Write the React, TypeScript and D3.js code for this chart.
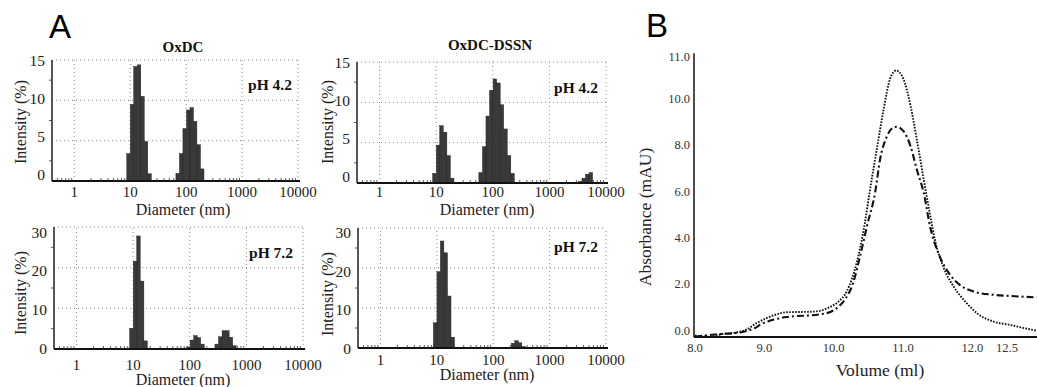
import React from 'react';
import * as d3 from 'd3';

// ---------- DATA ----------
// Panel A: DLS size distributions (bin diameter in nm, intensity %)
const BIN_LOG_WIDTH = 0.0628;

const oxdcPh42Diameter = [9.31, 10.8, 12.4, 14.4, 16.6, 19.2, 22.2, 70.6, 81.5, 94.2, 109, 126, 145, 168, 194];
const oxdcPh42Intensity = [3.4, 9.5, 14.2, 14.4, 10.5, 4.9, 0.9, 0.95, 3.4, 6.5, 8.8, 9.1, 7.4, 4.5, 1.5];

const dssnPh42Diameter = [9.31, 10.8, 12.4, 14.4, 16.6, 19.2, 61.1, 70.6, 81.5, 94.2, 109, 126, 145, 168, 194, 224, 3500, 4040, 4670, 5400];
const dssnPh42Intensity = [1.2, 4.7, 7.1, 6.3, 3.4, 0.6, 1.3, 4.5, 8.3, 11.5, 12.9, 12.4, 9.7, 6.7, 3.4, 1.2, 0.2, 0.6, 1.1, 1.3];

const oxdcPh72Diameter = [9.31, 10.8, 12.4, 14.4, 16.6, 94.2, 109, 126, 145, 168, 299, 346, 400, 462, 534, 617];
const oxdcPh72Intensity = [5.1, 21.6, 27.8, 16.7, 2.0, 0.5, 2.2, 3.3, 2.8, 1.2, 1.2, 3.0, 4.5, 4.5, 2.9, 0.8];

const dssnPh72Diameter = [9.31, 10.8, 12.4, 14.4, 16.6, 19.2, 194, 224, 259, 299, 346];
const dssnPh72Intensity = [6.3, 19.1, 26.75, 23.8, 13.0, 2.7, 0.2, 1.2, 1.8, 1.3, 0.4];

const diameterTicks = [1, 10, 100, 1000, 10000];
const diameterTickLabels = ['1', '10', '100', '1000', '10000'];
const intensityTicksPh42 = [0, 5, 10, 15];
const intensityTicksPh72 = [0, 10, 20, 30];

// Panel B: SEC chromatograms
const volumeTicks = [8, 9, 10, 11, 12, 12.5];
const volumeTickLabels = ['8.0', '9.0', '10.0', '11.0', '12.0', '12.5'];
const absorbanceTickAt = [0, 2, 4, 6, 8, 10, 11.8];
const absorbanceTickLabels = ['0.0', '2.0', '4.0', '6.0', '8.0', '10.0', '11.0'];

const dottedVolume = [8.0, 8.2, 8.4, 8.6, 8.75, 8.89, 9.03, 9.18, 9.32, 9.5, 9.66, 9.8, 9.95, 10.05, 10.19, 10.33, 10.45, 10.52, 10.62, 10.72, 10.81, 10.86, 10.9, 10.95, 11.01, 11.11, 11.2, 11.3, 11.4, 11.46, 11.58, 11.73, 11.92, 12.07, 12.31, 12.55, 12.75, 12.93];
const dottedAbsorbance = [-0.22, -0.27, -0.15, -0.08, 0.05, 0.32, 0.53, 0.7, 0.79, 0.8, 0.81, 0.85, 1.02, 1.2, 1.7, 2.9, 4.64, 6.0, 7.8, 9.54, 10.84, 11.15, 11.23, 11.15, 10.84, 9.69, 8.24, 6.5, 4.85, 3.92, 2.76, 1.9, 1.18, 0.74, 0.38, 0.24, 0.1, -0.01];

const dashDotVolume = [8.0, 8.2, 8.37, 8.55, 8.7, 8.89, 8.94, 9.06, 9.18, 9.32, 9.45, 9.66, 9.8, 9.95, 10.06, 10.14, 10.28, 10.38, 10.48, 10.6, 10.67, 10.77, 10.85, 10.91, 11.01, 11.11, 11.2, 11.3, 11.39, 11.53, 11.68, 11.82, 12.02, 12.31, 12.55, 12.93];
const dashDotAbsorbance = [-0.27, -0.2, -0.15, -0.12, -0.05, 0.15, 0.25, 0.4, 0.5, 0.58, 0.62, 0.65, 0.7, 0.8, 1.0, 1.25, 2.05, 3.2, 4.5, 6.0, 7.4, 8.4, 8.75, 8.8, 8.6, 7.95, 6.94, 5.93, 4.5, 3.2, 2.4, 1.97, 1.68, 1.54, 1.49, 1.43];

// ---------- STYLE ----------
const SERIF = '"Liberation Serif", "Times New Roman", serif';
const SANS = '"Liberation Sans", Arial, sans-serif';
const GRID = '#8a8a8a';

type PanelProps = {
  diam: number[];
  inten: number[];
  yMax: number;
  yTicks: number[];
  x0: number; x1: number; yTop: number; yZero: number;
  labelTop: number; labelZero: number;
  title?: string; titleX?: number; titleY?: number;
  ph: string; phX: number; phY: number;
  xLabelY: number; xTitleX: number; xTitleY: number;
  yLabelX: number; yLabelY: number;
};

function DlsPanel(p: PanelProps) {
  const x = d3.scaleLog().domain([0.4, 10000]).range([p.x0, p.x1]);
  const y = d3.scaleLinear().domain([0, p.yMax]).range([p.yZero, p.yTop]);
  const yLab = d3.scaleLinear().domain([0, p.yMax]).range([p.labelZero, p.labelTop]);
  const half = Math.pow(10, BIN_LOG_WIDTH / 2);
  const minor: number[] = [];
  [0.5, 0.6, 0.7, 0.8, 0.9].forEach(v => minor.push(v));
  [1, 10, 100, 1000].forEach(dec => { for (let m = 2; m <= 9; m++) minor.push(dec * m); });
  const yStep = p.yTicks[1] - p.yTicks[0];
  const yMinor = p.yTicks.slice(0, -1).map(v => v + yStep / 2);
  return (
    <g>
      {/* grid */}
      {diameterTicks.map(t => (
        <line key={'gv' + t} x1={x(t)} x2={x(t)} y1={p.yZero} y2={p.yTop} stroke={GRID} strokeWidth={1} strokeDasharray="1,3" />
      ))}
      {p.yTicks.filter(t => t > 0).map(t => (
        <line key={'gh' + t} x1={p.x0} x2={p.x1} y1={y(t)} y2={y(t)} stroke={GRID} strokeWidth={1} strokeDasharray="1,3" />
      ))}
      {/* bars */}
      {p.diam.map((d, i) => (
        <rect key={'b' + i} x={x(d / half)} width={x(d * half) - x(d / half)} y={y(p.inten[i])} height={y(0) - y(p.inten[i])}
          fill="#393939" stroke="#1e1e1e" strokeWidth={0.4} />
      ))}
      {/* axes */}
      <line x1={p.x0} x2={p.x0} y1={p.yZero} y2={p.yTop} stroke="#111" strokeWidth={1.4} />
      <line x1={p.x0} x2={p.x1 + 2} y1={p.yZero} y2={p.yZero} stroke="#111" strokeWidth={2} />
      {minor.map(t => (
        <line key={'mx' + t} x1={x(t)} x2={x(t)} y1={p.yZero} y2={p.yZero - 3} stroke="#333" strokeWidth={0.8} />
      ))}
      {yMinor.map(t => (
        <line key={'my' + t} x1={p.x0} x2={p.x0 - 3} y1={y(t)} y2={y(t)} stroke="#333" strokeWidth={0.8} />
      ))}
      {p.yTicks.map(t => (
        <text key={'yt' + t} x={p.x0 - 7} y={yLab(t) + 5} textAnchor="end" fontFamily={SERIF} fontSize={15.5} fill="#222">{t}</text>
      ))}
      {diameterTicks.map((t, i) => (
        <text key={'xt' + t} x={x(t)} y={p.xLabelY} textAnchor="middle" fontFamily={SERIF} fontSize={15} fill="#222">{diameterTickLabels[i]}</text>
      ))}
      <text x={p.xTitleX} y={p.xTitleY} textAnchor="middle" fontFamily={SERIF} fontSize={16} fill="#222">Diameter (nm)</text>
      <text transform={`translate(${p.yLabelX},${p.yLabelY}) rotate(-90)`} textAnchor="middle" dominantBaseline="central" fontFamily={SERIF} fontSize={16} fill="#222">Intensity (%)</text>
      <text x={p.phX} y={p.phY} textAnchor="end" fontFamily={SERIF} fontSize={15.5} fontWeight="bold" fill="#111">{p.ph}</text>
      {p.title && (
        <text x={p.titleX} y={p.titleY} textAnchor="middle" fontFamily={SERIF} fontSize={15} fontWeight="bold" fill="#111">{p.title}</text>
      )}
    </g>
  );
}

function SecPanel() {
  const x = d3.scaleLinear().domain([8, 12.5]).range([695, 1007]);
  const y = d3.scaleLinear().domain([0, 10]).range([330.5, 99]);
  const line = d3.line<number>().curve(d3.curveMonotoneX);
  const dotted = line(dottedVolume.map((v, i) => [x(v), y(dottedAbsorbance[i])]) as any);
  const dashDot = line(dashDotVolume.map((v, i) => [x(v), y(dashDotAbsorbance[i])]) as any);
  const axisX = x(8) - 1;
  const axisY = y(-0.28);
  return (
    <g>
      <line x1={axisX} x2={axisX} y1={y(11.98)} y2={axisY} stroke="#111" strokeWidth={1.5} />
      <line x1={axisX} x2={1037} y1={axisY} y2={axisY} stroke="#111" strokeWidth={2} />
      {absorbanceTickAt.map((t, i) => (
        <text key={'by' + i} x={axisX - 4} y={y(t) + 4} textAnchor="end" fontFamily={SERIF} fontSize={12.5} fill="#333">{absorbanceTickLabels[i]}</text>
      ))}
      {volumeTicks.map((t, i) => (
        <text key={'bx' + i} x={x(t)} y={axisY + 15} textAnchor="middle" fontFamily={SERIF} fontSize={12.5} fill="#333">{volumeTickLabels[i]}</text>
      ))}
      <path d={dotted as string} fill="none" stroke="#111" strokeWidth={1.9} strokeDasharray="1.6,1.4" />
      <path d={dashDot as string} fill="none" stroke="#111" strokeWidth={2.1} strokeDasharray="7,3,2,3" />
      <text x={880} y={376} textAnchor="middle" fontFamily={SERIF} fontSize={17.5} fill="#222">Volume (ml)</text>
      <text transform="translate(645,217) rotate(-90)" textAnchor="middle" dominantBaseline="central" fontFamily={SERIF} fontSize={17.5} fill="#222">Absorbance (mAU)</text>
    </g>
  );
}

export default function App() {
  return (
    <svg width={1037} height={387} viewBox="0 0 1037 387" style={{ position: 'absolute', left: 0, top: 0, background: '#fff' }}>
      <rect x={0} y={0} width={1037} height={387} fill="#fff" />
      <text x={49} y={38} fontFamily={SANS} fontSize={33} fill="#000">A</text>
      <text x={646} y={37} fontFamily={SANS} fontSize={33} fill="#000">B</text>
      <DlsPanel diam={oxdcPh42Diameter} inten={oxdcPh42Intensity} yMax={15} yTicks={intensityTicksPh42}
        x0={52} x1={298} yTop={60} yZero={181} labelTop={61} labelZero={175} title="OxDC" titleX={183} titleY={52}
        ph="pH 4.2" phX={292} phY={90} xLabelY={197} xTitleX={183} xTitleY={215} yLabelX={20} yLabelY={122} />
      <DlsPanel diam={dssnPh42Diameter} inten={dssnPh42Intensity} yMax={15} yTicks={intensityTicksPh42}
        x0={357} x1={606} yTop={62} yZero={183} labelTop={63} labelZero={177} title="OxDC-DSSN" titleX={490} titleY={50}
        ph="pH 4.2" phX={598} phY={93} xLabelY={197} xTitleX={487} xTitleY={215} yLabelX={327} yLabelY={122} />
      <DlsPanel diam={oxdcPh72Diameter} inten={oxdcPh72Intensity} yMax={30} yTicks={intensityTicksPh72}
        x0={54} x1={303} yTop={227} yZero={349} labelTop={232.5} labelZero={349} 
        ph="pH 7.2" phX={293} phY={258} xLabelY={370} xTitleX={183} xTitleY={385} yLabelX={20} yLabelY={293} />
      <DlsPanel diam={dssnPh72Diameter} inten={dssnPh72Intensity} yMax={30} yTicks={intensityTicksPh72}
        x0={358} x1={606} yTop={228} yZero={348} labelTop={233} labelZero={349}
        ph="pH 7.2" phX={598} phY={252} xLabelY={365} xTitleX={487} xTitleY={380} yLabelX={327} yLabelY={294} />
      <SecPanel />
    </svg>
  );
}
